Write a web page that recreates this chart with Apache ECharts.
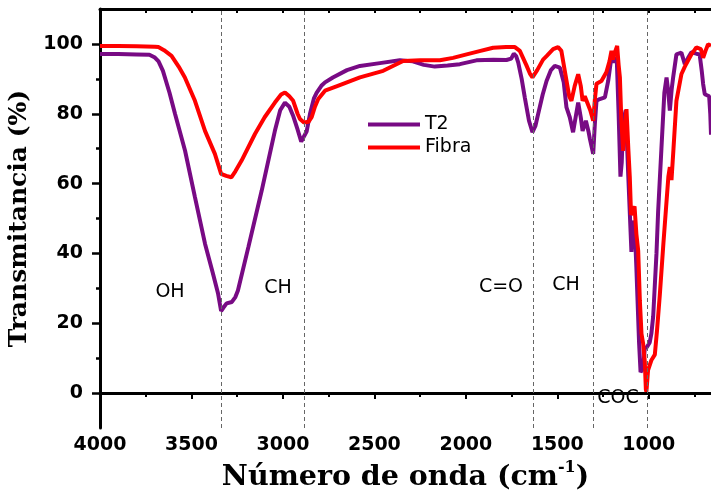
<!DOCTYPE html>
<html><head><meta charset="utf-8">
<script src="https://cdn.jsdelivr.net/npm/echarts@6/dist/echarts.min.js"></script>
<style>html,body{margin:0;padding:0;background:#fff}#c{width:711px;height:492px}</style>
</head><body><div id="c"></div>
<script>
// ---- data (wavenumber in cm-1, transmittance in %) ----
const t2Wave = [4000,3900,3800,3730,3700,3680,3656,3620,3590,3535,3481,3426,3383,3355,3338,3325,3308,3279,3260,3246,3189,3116,3044,3015,2989,2965,2945,2920,2900,2890,2870,2852,2830,2816,2790,2770,2727,2650,2579,2470,2361,2290,2230,2170,2100,2033,1942,1850,1778,1752,1738,1725,1714,1695,1678,1655,1636,1620,1605,1580,1559,1535,1514,1486,1465,1450,1432,1414,1400,1386,1372,1362,1350,1344,1330,1322,1304,1295,1286,1268,1240,1222,1204,1195,1186,1175,1165,1155,1148,1140,1126,1112,1095,1086,1075,1068,1053,1045,1038,1031,1022,1010,995,986,976,958,949,931,915,903,893,885,875,867,849,822,803,785,767,740,722,710,703,694,670,664,660];
const t2Trans = [97.1,97.1,97.0,96.9,96.1,95,92.3,86,80.0,69.4,56.1,42.8,34.3,28.6,23.5,24.5,25.7,26.1,27.5,29.4,41.8,58,75.1,81,83.2,82,79.5,75.5,72,71.5,75,80,84.5,86,88,89,90.4,92.5,93.7,94.5,95.3,95,94,93.5,93.8,94.2,95.3,95.5,95.4,95.8,97.2,96.5,94.7,90,84.7,78,74.7,76.5,79.9,85.5,89.4,92.5,93.7,93.2,89,81.8,79,74.7,79,83.2,79,75.1,77,78,75,72.8,68.5,77,83.7,84.2,84.7,89.4,96.4,94.7,95.8,95.5,80,62,66,78,81,62,40.4,49.4,45,36,14.2,6,5.5,7,12.8,13.2,14.5,17,22,40,52,70,86,90.4,86,80.9,87,90.4,97,97.5,94.2,96,97.6,97.2,97,92,88.5,85.6,85,80,74];
const fibraWave = [4000,3900,3800,3700,3681,3650,3609,3570,3536,3481,3426,3372,3338,3310,3282,3260,3226,3153,3100,3044,3010,2989,2965,2944,2920,2907,2885,2860,2843,2825,2807,2770,2700,2579,2452,2343,2250,2142,2070,1996,1920,1851,1780,1732,1705,1670,1650,1636,1610,1578,1559,1523,1496,1478,1455,1435,1423,1405,1386,1372,1362,1350,1340,1320,1304,1295,1286,1259,1232,1215,1204,1195,1186,1173,1165,1158,1150,1140,1122,1112,1104,1097,1088,1078,1068,1058,1049,1040,1031,1022,1016,1013,1004,986,967,955,940,920,903,893,885,876,865,849,822,803,767,740,715,703,690,676,660];
const fibraTrans = [99.4,99.4,99.3,99.2,99.1,98.2,96.6,93.5,90.4,83.7,75.1,68.5,62.8,62.2,61.8,63.5,66.6,74.2,79,83.2,85.5,86.1,85,83.7,80,78.5,77.5,77.7,79,82,84.2,86.6,88,90.4,92.3,95.1,95.3,95.3,96,97,98,98.9,99.1,99.1,98,94,91.5,90.4,92.5,95.5,96.5,98.5,99.1,98,91,85,83.7,88,91.3,88,83.7,85,84.7,81,78,84,88.6,89.4,91.9,95,98,95.5,97.5,99.4,94,90.4,78,69.4,81.3,70,62,51,51,53.5,45.6,40.8,26.6,17,14.2,9,1,0.4,6.6,9.4,11,18,28,43,55,62,64.7,61,70,83.7,91.3,93.5,97,99,98.5,96,98,99.9,99.5];
const seriesNames = ['T2', 'Fibra'];
const xMajorTicks = [1000,1500,2000,2500,3000,3500,4000];
const xMinorTicks = [750,1250,1750,2250,2750,3250,3750];
const yMajorTicks = [0,20,40,60,80,100];
const yMinorTicks = [10,30,50,70,90];
const bandLines = [3339,2885,1634,1306,1011];
const bandNames = ['OH','CH','C=O','CH','COC'];

const pair = (xs, ys) => xs.map((x, i) => [x, ys[i]]);
const chart = echarts.init(document.getElementById('c'), null, {renderer: 'canvas'});
const tickFont = {fontFamily: 'DejaVu Sans', fontWeight: 'bold', fontSize: 19, color: '#000', formatter: v => String(v)};
const bandPos = [[170,292],[278,288],[501,287],[566,285],[618,398]];

chart.setOption({
  animation: false,
  backgroundColor: '#fff',
  grid: {left: 100, right: 0, top: 9, bottom: 64, containLabel: false, outerBoundsMode: 'none'},
  legend: {
    orient: 'vertical', left: 368, top: 115, padding: 0, itemWidth: 52, itemHeight: 4, itemGap: 4, icon: 'rect',
    data: seriesNames,
    textStyle: {fontFamily: 'DejaVu Sans', fontSize: 19, color: '#000'}
  },
  xAxis: [
    {type: 'value', min: 660, max: 4000, inverse: true, position: 'bottom',
     name: 'Número de onda (cm{sup|-1})', nameLocation: 'middle', nameGap: 25,
     nameTextStyle: {fontFamily: 'DejaVu Serif', fontWeight: 'bold', fontSize: 28.5, color: '#000', lineHeight: 35,
       rich: {sup: {fontFamily: 'DejaVu Serif', fontWeight: 'bold', fontSize: 16, color: '#000', verticalAlign: 'top', lineHeight: 35}}},
     axisLine: {lineStyle: {color: '#000', width: 3}},
     axisTick: {customValues: xMajorTicks, length: 6, lineStyle: {color: '#000', width: 2}},
     axisLabel: Object.assign({customValues: xMajorTicks, margin: 8}, tickFont),
     splitLine: {show: false}},
    {type: 'value', min: 660, max: 4000, inverse: true, position: 'bottom',
     axisLine: {show: false},
     axisTick: {customValues: xMinorTicks, length: 4, lineStyle: {color: '#000', width: 2}},
     axisLabel: {show: false}, splitLine: {show: false}},
    {type: 'value', min: 660, max: 4000, inverse: true, position: 'top',
     axisLine: {lineStyle: {color: '#000', width: 3}},
     axisTick: {inside: true, customValues: xMajorTicks.concat(xMinorTicks), length: 4, lineStyle: {color: '#000', width: 2}},
     axisLabel: {show: false}, splitLine: {show: false}}
  ],
  yAxis: [
    {type: 'value', min: -10, max: 110, position: 'left',
     name: 'Transmitancia (%)', nameLocation: 'middle', nameGap: 42,
     nameTextStyle: {fontFamily: 'DejaVu Serif', fontWeight: 'bold', fontSize: 25, color: '#000'},
     axisLine: {show: true, lineStyle: {color: '#000', width: 3}},
     axisTick: {show: true, customValues: yMajorTicks, length: 8, lineStyle: {color: '#000', width: 2.5}},
     axisLabel: Object.assign({customValues: yMajorTicks, margin: 17}, tickFont),
     splitLine: {show: false}},
    {type: 'value', min: -10, max: 110, position: 'left',
     axisLine: {show: false},
     axisTick: {show: true, customValues: yMinorTicks, length: 4, lineStyle: {color: '#000', width: 2.5}},
     axisLabel: {show: false}, splitLine: {show: false}}
  ],
  series: [
    {name: seriesNames[0], type: 'line', data: pair(t2Wave, t2Trans), symbol: 'none',
     color: '#780A84', lineStyle: {width: 4, color: '#780A84'},
     markLine: {silent: true, symbol: 'none', label: {show: false},
       lineStyle: {color: '#666', type: [4, 3], width: 1},
       data: bandLines.map(v => ({xAxis: v}))}},
    {name: seriesNames[1], type: 'line', data: pair(fibraWave, fibraTrans), symbol: 'none',
     color: '#FF0000', lineStyle: {width: 4, color: '#FF0000'}}
  ],
  graphic: bandNames.map((t, i) => ({
    type: 'text', x: bandPos[i][0], y: bandPos[i][1], z: 100,
    style: {text: t, fill: '#000', fontFamily: 'DejaVu Sans', fontSize: 19, align: 'center', verticalAlign: 'middle'}
  }))
});
</script></body></html>
